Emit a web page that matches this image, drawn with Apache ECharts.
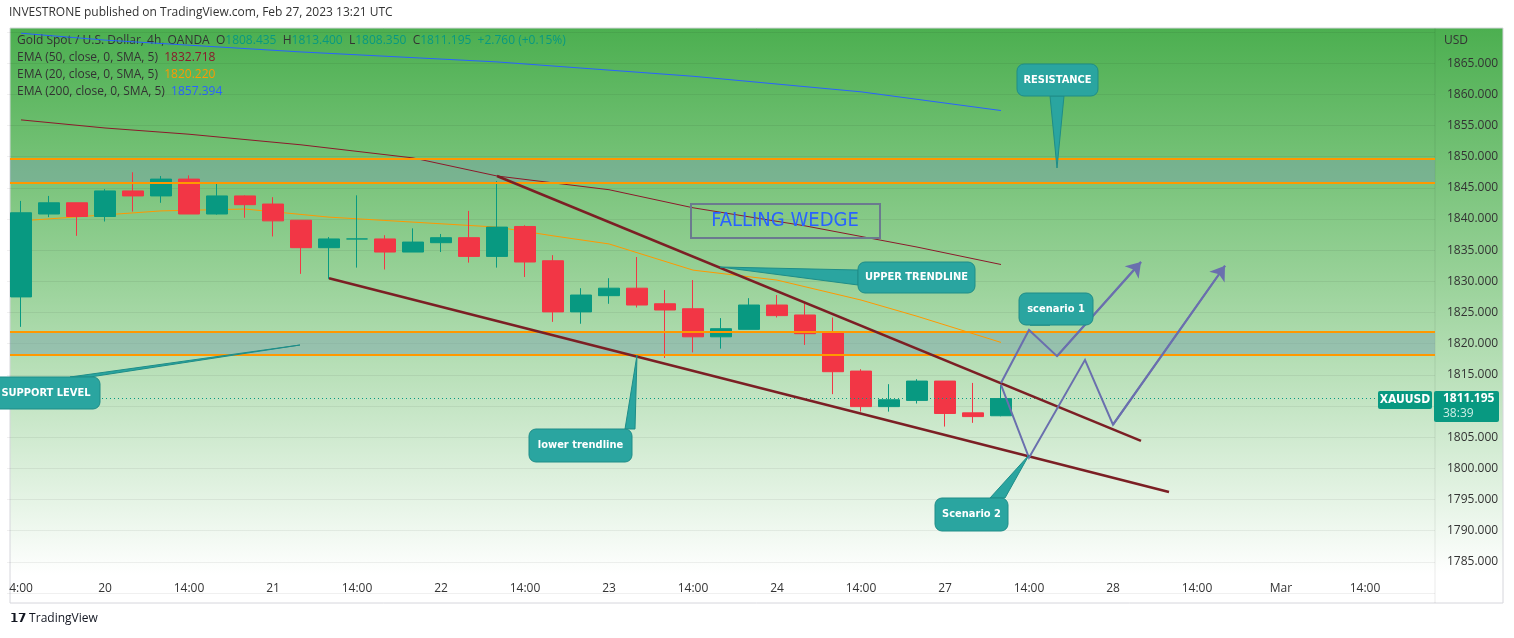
<!DOCTYPE html>
<html><head><meta charset="utf-8">
<script src="https://cdn.jsdelivr.net/npm/echarts@6/dist/echarts.min.js"></script>
<style>html,body{margin:0;padding:0;background:#fff}#c{width:1514px;height:638px}</style>
</head><body><div id="c"></div>
<script>
// candles [open, close, low, high]
const candles = [
 [1827.5,1841.0,1822.7,1842.9],[1840.8,1842.6,1840.3,1843.7],[1842.6,1840.4,1837.3,1842.6],[1840.4,1844.5,1839.6,1844.8],
 [1844.5,1843.7,1841.2,1847.5],[1843.7,1846.4,1842.6,1846.9],[1846.4,1840.8,1840.8,1847.0],[1840.8,1843.7,1840.7,1845.8],
 [1843.7,1842.3,1840.2,1843.8],[1842.4,1839.7,1837.2,1843.5],[1839.8,1835.4,1831.2,1839.8],[1835.4,1836.8,1830.4,1837.1],
 [1836.8,1836.8,1832.2,1843.8],[1836.8,1834.7,1831.9,1837.4],[1834.7,1836.3,1834.7,1838.5],[1836.2,1837.0,1834.7,1837.6],
 [1837.0,1834.0,1833.0,1841.3],[1834.0,1838.7,1832.2,1846.1],[1838.8,1833.1,1830.7,1839.0],[1833.3,1825.1,1823.5,1834.2],
 [1825.1,1827.8,1823.2,1828.9],[1827.7,1828.9,1826.4,1830.5],[1828.9,1826.2,1825.8,1833.9],[1826.4,1825.4,1817.7,1828.6],
 [1825.6,1821.1,1818.6,1830.2],[1821.1,1822.4,1819.2,1824.1],[1822.3,1826.2,1822.3,1827.3],[1826.2,1824.5,1824.2,1827.8],
 [1824.6,1821.6,1819.8,1826.5],[1821.7,1815.5,1811.9,1824.2],[1815.6,1809.9,1809.1,1815.9],[1809.9,1811.0,1809.1,1813.5],
 [1810.9,1814.0,1810.4,1814.3],[1814.0,1808.8,1806.7,1814.0],[1808.9,1808.3,1807.3,1813.7],[1808.435,1811.195,1808.35,1813.4]
];
const slotCount = 51;
const tickLabels = ['4:00','20','14:00','21','14:00','22','14:00','23','14:00','24','14:00','27','14:00','28','14:00','Mar','14:00'];
const ema200 = [[0,1869.8],[3,1868.7],[10,1866.8],[17,1865.2],[24,1862.9],[30,1860.4],[35,1857.4]];
const ema50 = [[0,1855.9],[3,1854.6],[6,1853.6],[10,1851.9],[14,1849.8],[17,1846.9],[21,1844.7],[24,1841.8],[28,1838.9],[32,1835.5],[35,1832.7]];
const ema20 = [[0,1839.7],[5,1841.3],[8,1841.6],[11,1840.3],[14,1839.5],[17,1838.7],[19,1837.3],[21,1836.0],[24,1831.8],[27,1830.2],[30,1827.0],[32,1824.4],[35,1820.2]];
const resistanceZone = [1845.8,1849.6];
const supportZone = [1818.2,1821.9];
const upperTrend = [[17,1846.9],[40,1804.4]];
const lowerTrend = [[11,1830.5],[41,1796.2]];
const scenario1 = [[35,1813.7],[36,1822.2],[37,1818.0],[40,1833.1]];
const scenario2 = [[35,1813.4],[36,1801.7],[38,1817.4],[39,1807.0],[43,1832.5]];
const lastPrice = 1811.195;

function sparse(pts){const a=new Array(slotCount).fill(null);pts.forEach(p=>a[p[0]]=p[1]);return a;}
const cats = Array.from({length:slotCount},(_,i)=>'c'+i);
const UP='#089981', DN='#f23645', TEAL='#2aa5a0', ARW='#6a6fae';

function callout(x,y,w,h,text,tip,base,fs){
  return [
   {type:'polygon',shape:{points:[[base[0],base[1]],[base[2],base[3]],tip]},style:{fill:TEAL,stroke:'#1e8d88',lineWidth:1},z:100},
   {type:'rect',shape:{x:x,y:y,width:w,height:h,r:7},style:{fill:TEAL,stroke:'#1e8d88',lineWidth:1},z:101},
   {type:'text',x:x+w/2,y:y+h/2,style:{text:text,fill:'#fff',font:'bold '+(fs||11)+'px "DejaVu Sans Condensed", "Open Sans", sans-serif',textAlign:'center',textVerticalAlign:'middle'},z:102}
  ];
}
function lastSeg(s){return {coords:[s[s.length-2],s[s.length-1]]};}

const chart = echarts.init(document.getElementById('c'));
chart.setOption({
  animation:false,
  backgroundColor:'#fff',
  grid:{left:7,right:1514-7-28*slotCount,top:32,bottom:45},
  xAxis:{type:'category',data:cats,boundaryGap:true,offset:-18,
    axisLine:{show:false},axisTick:{show:false},
    axisLabel:{interval:2,color:'#333',fontSize:12,fontFamily:'"Open Sans", sans-serif',margin:8,
      formatter:(v,i)=>tickLabels[Math.round(i/3)]||''},
    splitLine:{show:false}},
  yAxis:{type:'value',position:'right',min:1780,max:1870,interval:5,offset:0,
    axisLine:{show:false},axisTick:{show:false},
    axisLabel:{color:'#333',fontSize:12,fontFamily:'"Open Sans", sans-serif',margin:12,
      formatter:v=>(v<1785||v>1865)?'':v.toFixed(3)},
    splitLine:{lineStyle:{color:'rgba(0,0,0,0.06)'}}},
  series:[
    {type:'line',data:sparse([[0,resistanceZone[0]],[slotCount-1,resistanceZone[0]]]),connectNulls:true,symbol:'none',silent:true,
     lineStyle:{width:0},z:1,
     markArea:{silent:true,itemStyle:{color:'rgba(120,160,170,0.45)'},data:[
       [{yAxis:resistanceZone[0],x:10},{yAxis:resistanceZone[1],x:1435}],
       [{yAxis:supportZone[0],x:10},{yAxis:supportZone[1],x:1435}]]},
     markLine:{silent:true,symbol:'none',label:{show:false},lineStyle:{color:'#ff9800',width:2,type:'solid'},data:[
       [{yAxis:resistanceZone[0],x:10},{yAxis:resistanceZone[0],x:1435}],
       [{yAxis:resistanceZone[1],x:10},{yAxis:resistanceZone[1],x:1435}],
       [{yAxis:supportZone[0],x:10},{yAxis:supportZone[0],x:1435}],
       [{yAxis:supportZone[1],x:10},{yAxis:supportZone[1],x:1435}],
       [{yAxis:lastPrice,x:10},{yAxis:lastPrice,x:1378,lineStyle:{color:UP,width:1,type:[1,3]}}]]}},
    {type:'line',data:sparse(ema200),connectNulls:true,symbol:'none',lineStyle:{color:'#2962ff',width:1},z:3},
    {type:'line',data:sparse(ema50),connectNulls:true,symbol:'none',lineStyle:{color:'#8b1a2b',width:1},z:3},
    {type:'line',data:sparse(ema20),connectNulls:true,symbol:'none',lineStyle:{color:'#ff9800',width:1},z:3},
    {type:'candlestick',data:candles.map(c=>[c[0],c[1],c[2],c[3]]),barWidth:21,z:4,
     itemStyle:{color:UP,color0:DN,borderColor:UP,borderColor0:DN,borderWidth:1}},
    {type:'line',data:sparse(upperTrend),connectNulls:true,symbol:'none',lineStyle:{color:'#7b1f24',width:2.5},z:5},
    {type:'line',data:sparse(lowerTrend),connectNulls:true,symbol:'none',lineStyle:{color:'#7b1f24',width:2.5},z:5},
    {type:'lines',coordinateSystem:'cartesian2d',polyline:true,z:6,
     lineStyle:{color:ARW,width:2,opacity:1},
     data:[{coords:scenario1},{coords:scenario2}]},
    {type:'lines',coordinateSystem:'cartesian2d',z:6,symbol:['none','arrow'],symbolSize:[10,14],
     lineStyle:{color:ARW,width:2,opacity:1},
     data:[lastSeg(scenario1),lastSeg(scenario2)]}
  ],
  graphic:[
    {type:'rect',shape:{x:10,y:28,width:1493,height:547},style:{fill:new echarts.graphic.LinearGradient(0,0,0,1,[
      {offset:0,color:'#4caf50'},{offset:0.45,color:'#97d197'},{offset:1,color:'#ffffff'}])},z:-10,silent:true},
    {type:'rect',shape:{x:10,y:28,width:1493,height:575},style:{fill:'none',stroke:'#d6d6dc',lineWidth:1},z:-9,silent:true},
    {type:'line',shape:{x1:1435,y1:28,x2:1435,y2:603},style:{stroke:'rgba(0,0,0,0.08)',lineWidth:1},z:-9},
    {type:'text',left:9,top:7,style:{text:'INVESTRONE published on TradingView.com, Feb 27, 2023 13:21 UTC',fill:'#333',font:'12px "Open Sans", sans-serif'}},
    {type:'text',x:1444,y:35,style:{text:'USD',fill:'#333',font:'12px "Open Sans", sans-serif'}},
    {type:'text',x:17,y:35,style:{rich:{a:{fill:'#333',font:'12px "Open Sans", sans-serif'},g:{fill:UP,font:'12px "Open Sans", sans-serif'}},
      text:'{a|Gold Spot / U.S. Dollar, 4h, OANDA  O}{g|1808.435}{a|  H}{g|1813.400}{a|  L}{g|1808.350}{a|  C}{g|1811.195  +2.760 (+0.15%)}'}},
    {type:'text',x:17,y:52,style:{rich:{a:{fill:'#333',font:'12px "Open Sans", sans-serif'},v:{fill:'#8b1a2b',font:'12px "Open Sans", sans-serif'}},text:'{a|EMA (50, close, 0, SMA, 5)  }{v|1832.718}'}},
    {type:'text',x:17,y:69,style:{rich:{a:{fill:'#333',font:'12px "Open Sans", sans-serif'},v:{fill:'#ff9800',font:'12px "Open Sans", sans-serif'}},text:'{a|EMA (20, close, 0, SMA, 5)  }{v|1820.220}'}},
    {type:'text',x:17,y:86,style:{rich:{a:{fill:'#333',font:'12px "Open Sans", sans-serif'},v:{fill:'#2962ff',font:'12px "Open Sans", sans-serif'}},text:'{a|EMA (200, close, 0, SMA, 5)  }{v|1857.394}'}},
    {type:'rect',shape:{x:691,y:204,width:189,height:34},style:{fill:'none',stroke:'#6b7a8f',lineWidth:2},z:50},
    {type:'text',x:785,y:221,style:{text:'FALLING WEDGE',fill:'#2962ff',font:'20px "DejaVu Sans Condensed", sans-serif',textAlign:'center',textVerticalAlign:'middle'},z:50},
    ...callout(1017,64,81,32,'RESISTANCE',[1057,168],[1050,96,1064,96]),
    ...callout(858,262,117,31,'UPPER TRENDLINE',[720,267],[858,270,858,285]),
    ...callout(1019,293,74,32,'scenario 1',[1030,325],[1040,325,1050,325]),
    ...callout(529,429,103,33,'lower trendline',[637,355],[625,429,635,429]),
    ...callout(935,498,73,33,'Scenario 2',[1029,455],[990,498,1005,498]),
    ...callout(-8,377,108,32,'SUPPORT LEVEL',[300,345],[70,377,90,377]),
    {type:'rect',shape:{x:1378,y:391,width:54,height:18,r:2},style:{fill:UP},z:60},
    {type:'text',x:1405,y:400,style:{text:'XAUUSD',fill:'#fff',font:'bold 12px "DejaVu Sans Condensed", sans-serif',textAlign:'center',textVerticalAlign:'middle'},z:61},
    {type:'rect',shape:{x:1434,y:391,width:65,height:31,r:2},style:{fill:UP},z:60},
    {type:'text',x:1443,y:393,style:{text:'1811.195',fill:'#fff',font:'bold 12px "Open Sans", sans-serif'},z:61},
    {type:'text',x:1443,y:408,style:{text:'38:39',fill:'#cdeee6',font:'12px "Open Sans", sans-serif'},z:61},
    {type:'text',x:10,y:613,style:{text:'𝟭𝟳 TradingView',fill:'#131722',font:'12px "Open Sans", sans-serif'}}
  ]
});
</script></body></html>
